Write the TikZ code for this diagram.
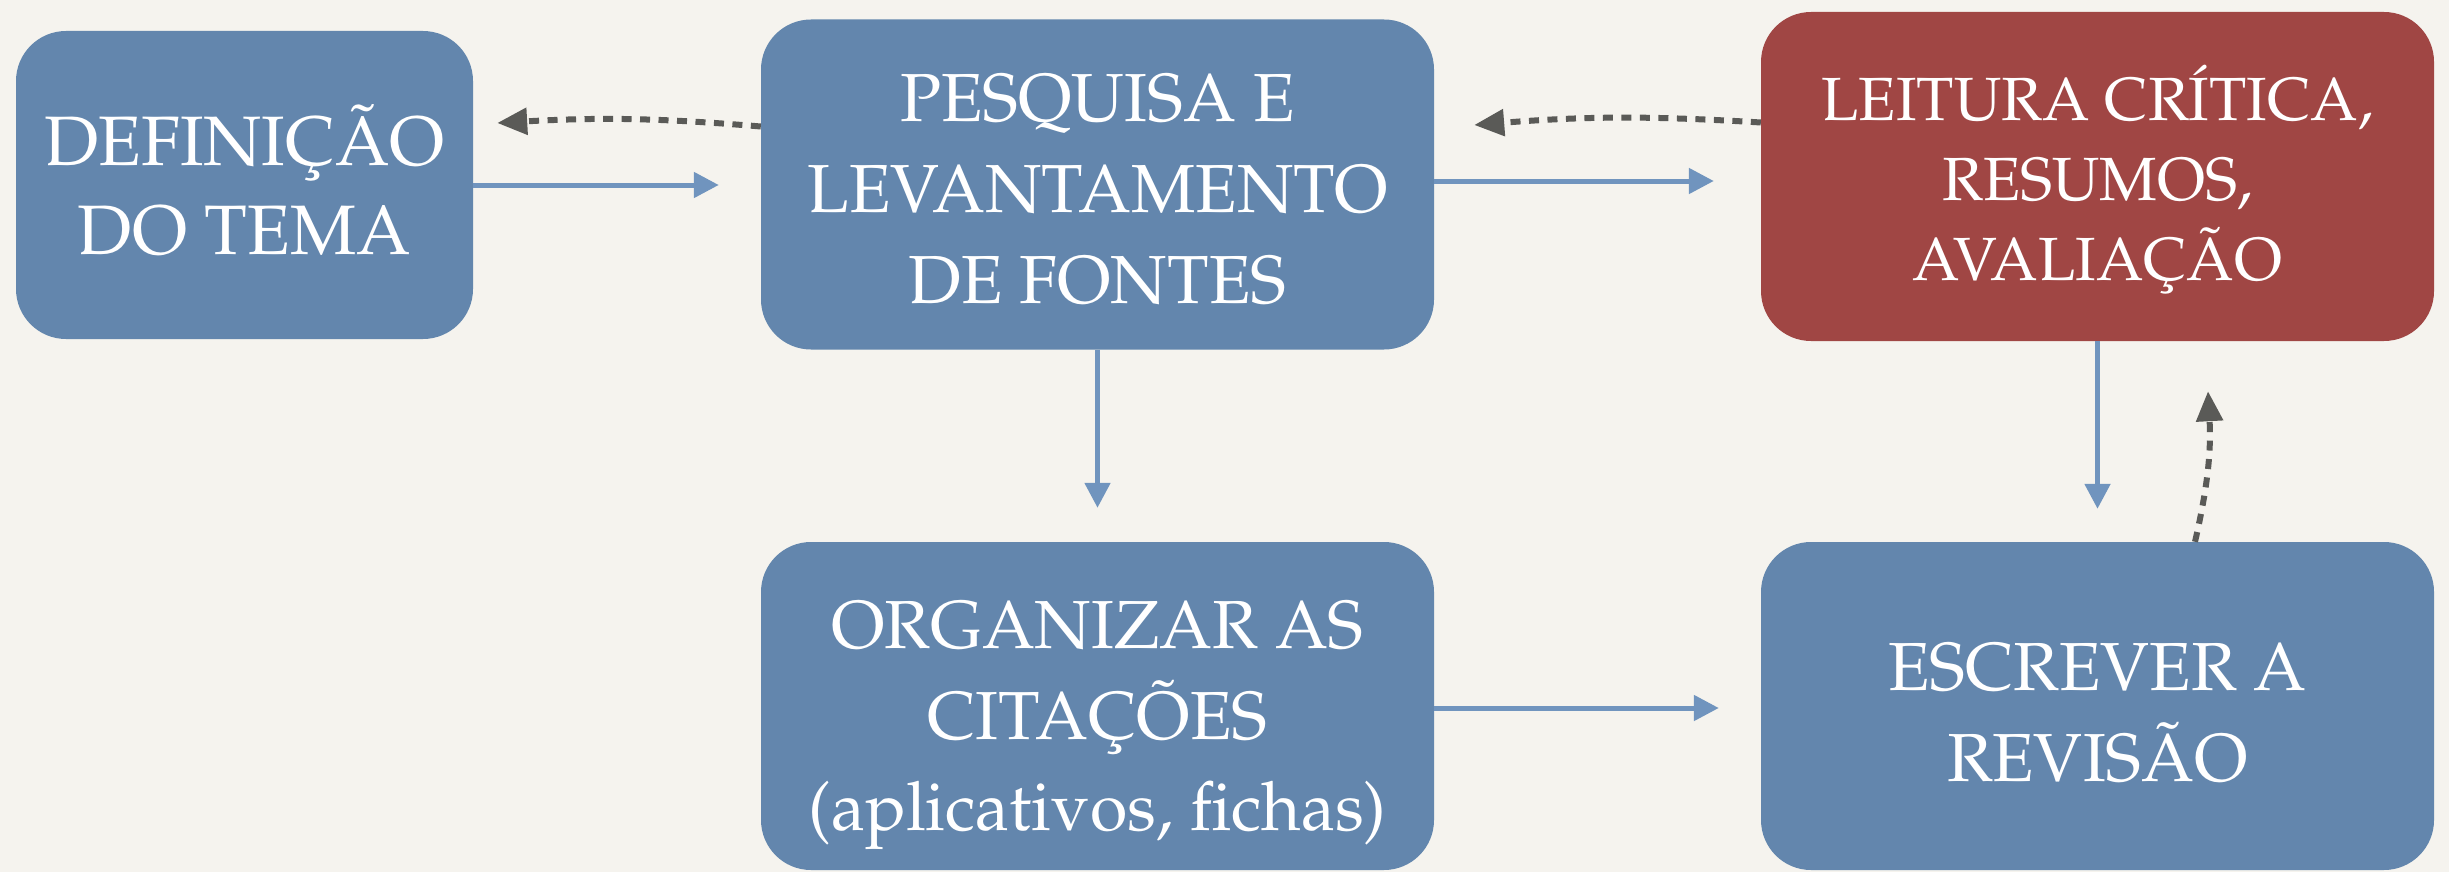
\documentclass[tikz,border=0pt]{standalone}
\usepackage[T1]{fontenc}
\renewcommand{\rmdefault}{ppl}
\usetikzlibrary{arrows.meta}
\definecolor{bgc}{HTML}{F5F3EE}
\definecolor{boxblue}{HTML}{6386AD}
\definecolor{boxred}{HTML}{A04644}
\definecolor{arrblue}{HTML}{7094BE}
\definecolor{arrgray}{HTML}{5A5A57}
\newcommand{\boxtext}[2]{\raisebox{#1}[\height][\depth]{\begin{tabular}{@{}c@{}}#2\end{tabular}}}
\tikzset{
  stepbox/.style={rectangle, rounded corners=50pt, fill=boxblue, text=white,
    align=center, inner sep=0pt, minimum width=673pt, minimum height=330pt,
    font=\fontsize{68}{91}\selectfont},
  redbox/.style={stepbox, fill=boxred, font=\fontsize{61}{80}\selectfont},
  bluearr/.style={draw=arrblue, line width=5pt, -{Triangle[length=25pt,width=25pt]}},
  dasharr/.style={draw=arrgray, line width=6pt, dash pattern=on 10pt off 8.5pt,
    -{Triangle[length=30pt,width=26pt]}}
}
\begin{document}
\begin{tikzpicture}[x=1pt,y=-1pt]
\fill[bgc] (0,0) rectangle (2449,872);
\useasboundingbox (0,0) rectangle (2449,872);
\node[stepbox, minimum width=457pt, minimum height=308pt,
  font=\fontsize{70}{90}\selectfont] (b1) at (244.5,185) {\boxtext{-7pt}{DEFINI\c{C}\~AO\\DO TEMA}};
\node[stepbox] (b2) at (1097.5,184.5) {\boxtext{-10pt}{PESQUISA E\\LEVANTAMENTO\\DE FONTES}};
\node[redbox, minimum height=329pt] (b3) at (2097.5,176.5) {\boxtext{-8pt}{LEITURA CR\'ITICA,\\RESUMOS,\\AVALIA\c{C}\~AO}};
\node[stepbox, minimum height=328pt] (b4) at (1097.5,706) {\boxtext{-15pt}{ORGANIZAR AS\\CITA\c{C}\~OES\\(aplicativos, fichas)}};
\node[stepbox, minimum height=328pt] (b5) at (2097.5,706) {\boxtext{-12pt}{ESCREVER A\\REVIS\~AO}};
% solid arrows
\draw[bluearr, shorten >=42pt] (b1.east) -- (b1.east -| b2.west);
\draw[bluearr, shorten >=47pt] ([yshift=3.5pt]b2.east) -- ([yshift=3.5pt]b2.east -| b3.west);
\draw[bluearr, shorten >=34pt] (b2.south) -- (b4.north);
\draw[bluearr, shorten >=42pt] ([yshift=-2pt]b4.east) -- ([yshift=-2pt]b4.east -| b5.west);
\draw[bluearr, shorten >=33pt] (b3.south) -- (b3.south |- b5.north);
% dashed arrows
\draw[dasharr] ([yshift=58pt]b2.west) to[bend right=4] ([xshift=24pt,yshift=62pt]b1.east);
\draw[dasharr] ([yshift=54pt]b3.west) to[bend right=4] ([xshift=40pt,yshift=59.5pt]b2.east);
\draw[dasharr] ([xshift=97.5pt]b5.north) to[bend right=8] ([xshift=110.5pt,yshift=-50pt]b3.south);
\end{tikzpicture}
\end{document}
